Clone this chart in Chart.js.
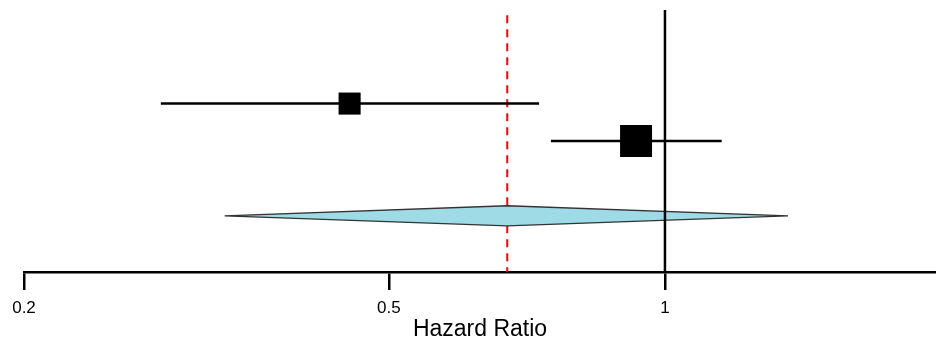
<!DOCTYPE html>
<html>
<head>
<meta charset="utf-8">
<script src="https://cdn.jsdelivr.net/npm/chart.js@4/dist/chart.umd.min.js"></script>
<style>
  html, body { margin: 0; padding: 0; background: #fff; }
  #wrap { width: 936px; height: 340px; }
</style>
</head>
<body>
<div id="wrap"><canvas id="c" width="936" height="340"></canvas></div>
<script>
// ---- data ----
const categories = ['Study 1', 'Study 2'];
const hr = [0.453, 0.930];
const lower = [0.282, 0.751];
const upper = [0.729, 1.153];
const weights = [1.0, 2.1];
const pooledCI = [0.331, 0.673, 1.362]; // lower, estimate, upper
const tickValues = [0.2, 0.5, 1];
const axisTitle = 'Hazard Ratio';

// ---- build ----
Chart.defaults.font.family = '"Liberation Sans", Arial, sans-serif';
const yMin = -1.5, yMax = 5.5;
const pooledRow = categories.length + 2;
const diamondHalf = 0.27;

const datasets = [];
// null line at HR = 1
datasets.push({
  type: 'line', order: 0,
  data: [{x: 1, y: yMin}, {x: 1, y: yMax}],
  borderColor: '#000', borderWidth: 2.5, pointRadius: 0, fill: false
});
// study squares
datasets.push({
  type: 'scatter', order: 1,
  data: categories.map((c, i) => ({x: hr[i], y: i + 1})),
  pointStyle: 'rect',
  pointRadius: weights.map(w => 15.6 * Math.sqrt(w)),
  backgroundColor: '#000', borderColor: '#000', borderWidth: 0
});
// confidence intervals
categories.forEach((c, i) => {
  datasets.push({
    type: 'line', order: 2,
    data: [{x: lower[i], y: i + 1}, {x: upper[i], y: i + 1}],
    borderColor: '#000', borderWidth: 2.5, pointRadius: 0, fill: false
  });
});
// pooled diamond
datasets.push({
  type: 'line', order: 3,
  data: [
    {x: pooledCI[0], y: pooledRow},
    {x: pooledCI[1], y: pooledRow - diamondHalf},
    {x: pooledCI[2], y: pooledRow},
    {x: pooledCI[1], y: pooledRow + diamondHalf},
    {x: pooledCI[0], y: pooledRow}
  ],
  borderColor: '#333', borderWidth: 1.3, pointRadius: 0,
  backgroundColor: '#9fdbe6', fill: 'shape', tension: 0
});
// pooled estimate reference (dashed red)
datasets.push({
  type: 'line', order: 4,
  data: [{x: pooledCI[1], y: yMin + 0.14}, {x: pooledCI[1], y: yMax}],
  borderColor: '#ff0000', borderWidth: 2, borderDash: [8, 6], pointRadius: 0, fill: false
});

new Chart(document.getElementById('c'), {
  type: 'line',
  data: { datasets },
  options: {
    responsive: false,
    animation: false,
    layout: { autoPadding: false, padding: { top: 10, left: 24, right: 0, bottom: 0 } },
    plugins: { legend: { display: false }, tooltip: { enabled: false } },
    scales: {
      x: {
        type: 'logarithmic',
        position: 'bottom',
        min: 0.2, max: 1.975,
        afterBuildTicks: axis => { axis.ticks = tickValues.map(v => ({ value: v })); },
        ticks: {
          autoSkip: false, maxRotation: 0, minRotation: 0,
          color: '#000', font: { size: 17, lineHeight: 1.0 }, padding: 9.5,
          callback: v => String(v)
        },
        grid: { drawOnChartArea: false, drawTicks: true, tickLength: 18, color: '#000', lineWidth: 2.5 },
        border: { display: true, color: '#000', width: 2.5 },
        title: { display: true, text: axisTitle, color: '#000', font: { size: 23, lineHeight: 1.0 }, padding: { top: -8, bottom: -1 } }
      },
      y: { type: 'linear', min: yMin, max: yMax, reverse: true, display: false }
    }
  }
});
</script>
</body>
</html>
